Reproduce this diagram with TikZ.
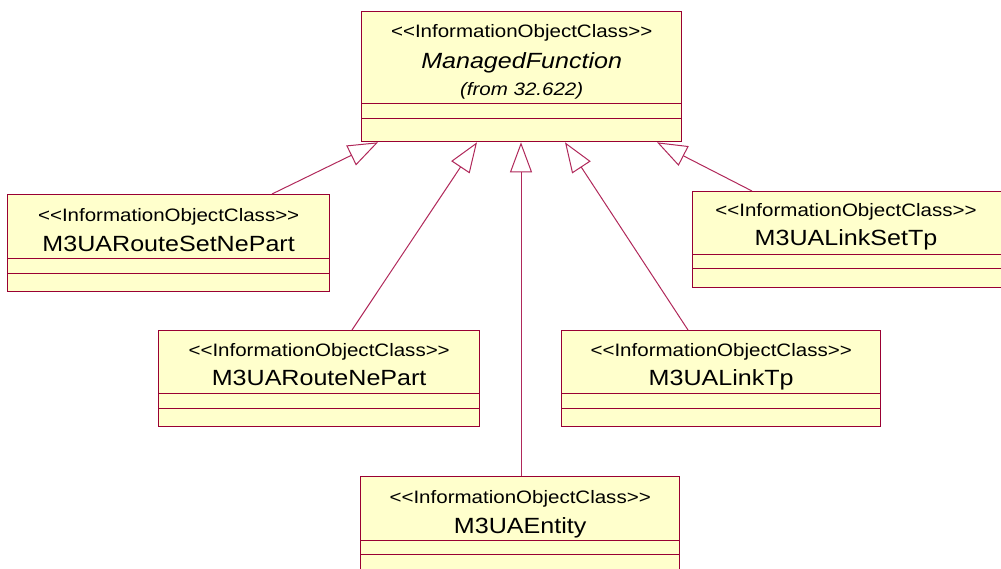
\documentclass[tikz,border=0pt]{standalone}
\usepackage{fontspec}
\newfontfamily\umlfont[FakeStretch=1.14]{Liberation Sans}
\usetikzlibrary{arrows.meta,calc}
\definecolor{umlred}{RGB}{153,0,51}
\definecolor{umlline}{RGB}{176,40,90}
\definecolor{umlfill}{RGB}{255,255,204}
\begin{document}
\begin{tikzpicture}[x=1pt,y=-1pt,
  classbox/.style={draw=umlred, fill=umlfill, line width=1.3pt, rectangle, inner sep=0pt, anchor=north west},
  stereo/.style={font=\umlfont\fontsize{18}{20}\selectfont, anchor=base, inner sep=0pt},
  cname/.style={font=\umlfont\fontsize{22}{24}\selectfont, anchor=base, inner sep=0pt},
  fromtxt/.style={font=\umlfont\itshape\fontsize{18}{20}\selectfont, anchor=base, inner sep=0pt},
  compline/.style={draw=umlred, line width=1pt},
  inh/.style={draw=umlline, line width=1pt, -{Triangle[open, length=30pt, width=22pt, fill=white]}}
]
\useasboundingbox (0,0) rectangle (1001,568);
\clip (0,0) rectangle (1001,568);

% ManagedFunction
\node[classbox, minimum width=320pt, minimum height=130pt] (mf) at (361,11) {};
\node[stereo] (mfs) at ($(mf.north)+(0,26)$) {<<InformationObjectClass>>};
\node[cname, font=\umlfont\itshape\fontsize{22}{24}\selectfont] (mfn) at ($(mf.north)+(0,57)$) {ManagedFunction};
\node[fromtxt] (mff) at ($(mf.north)+(0,84)$) {(from 32.622)};
\draw[compline] ($(mf.north west)+(0,92)$) -- ($(mf.north east)+(0,92)$);
\draw[compline] ($(mf.north west)+(0,107)$) -- ($(mf.north east)+(0,107)$);

% M3UARouteSetNePart
\node[classbox, minimum width=322pt, minimum height=97pt] (rsnp) at (7,194) {};
\node[stereo] (rsnps) at ($(rsnp.north)+(0,27)$) {<<InformationObjectClass>>};
\node[cname] (rsnpn) at ($(rsnp.north)+(0,57)$) {M3UARouteSetNePart};
\draw[compline] ($(rsnp.north west)+(0,64)$) -- ($(rsnp.north east)+(0,64)$);
\draw[compline] ($(rsnp.north west)+(0,79)$) -- ($(rsnp.north east)+(0,79)$);

% M3UALinkSetTp
\node[classbox, minimum width=320pt, minimum height=96pt] (lstp) at (692,191) {};
\node[stereo] (lstps) at ($(lstp.north west)+(154,25)$) {<<InformationObjectClass>>};
\node[cname] (lstpn) at ($(lstp.north west)+(154,54)$) {M3UALinkSetTp};
\draw[compline] ($(lstp.north west)+(0,63)$) -- ($(lstp.north east)+(0,63)$);
\draw[compline] ($(lstp.north west)+(0,77)$) -- ($(lstp.north east)+(0,77)$);

% M3UARouteNePart
\node[classbox, minimum width=321pt, minimum height=96pt] (rnp) at (158,330) {};
\node[stereo] (rnps) at ($(rnp.north)+(0,26)$) {<<InformationObjectClass>>};
\node[cname] (rnpn) at ($(rnp.north)+(0,55)$) {M3UARouteNePart};
\draw[compline] ($(rnp.north west)+(0,63)$) -- ($(rnp.north east)+(0,63)$);
\draw[compline] ($(rnp.north west)+(0,78)$) -- ($(rnp.north east)+(0,78)$);

% M3UALinkTp
\node[classbox, minimum width=319pt, minimum height=96pt] (ltp) at (561,330) {};
\node[stereo] (ltps) at ($(ltp.north)+(0,26)$) {<<InformationObjectClass>>};
\node[cname] (ltpn) at ($(ltp.north)+(0,55)$) {M3UALinkTp};
\draw[compline] ($(ltp.north west)+(0,63)$) -- ($(ltp.north east)+(0,63)$);
\draw[compline] ($(ltp.north west)+(0,78)$) -- ($(ltp.north east)+(0,78)$);

% M3UAEntity
\node[classbox, minimum width=319pt, minimum height=110pt] (ent) at (360,476) {};
\node[stereo] (ents) at ($(ent.north)+(0,27)$) {<<InformationObjectClass>>};
\node[cname] (entn) at ($(ent.north)+(0,57)$) {M3UAEntity};
\draw[compline] ($(ent.north west)+(0,64)$) -- ($(ent.north east)+(0,64)$);
\draw[compline] ($(ent.north west)+(0,78)$) -- ($(ent.north east)+(0,78)$);

% Generalisations
\draw[inh] ($(rsnp.north west)+(265,0)$) -- ($(mf.south west)+(17,0)$);
\draw[inh] ($(rnp.north west)+(194,0)$) -- ($(mf.south west)+(116,0)$);
\draw[inh] ($(ent.north west)+(161,0)$) -- ($(mf.south west)+(160,0)$);
\draw[inh] ($(ltp.north west)+(127,0)$) -- ($(mf.south west)+(204,0)$);
\draw[inh] ($(lstp.north west)+(60,0)$) -- ($(mf.south west)+(296,0)$);
\end{tikzpicture}
\end{document}
